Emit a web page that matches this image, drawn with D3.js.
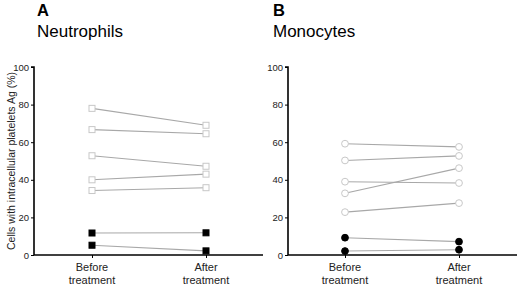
<!DOCTYPE html>
<html><head><meta charset="utf-8">
<script src="https://cdn.jsdelivr.net/npm/d3@7"></script>
<style>body{margin:0;background:#fff}svg{display:block}text{font-family:"Liberation Sans",Arial,sans-serif}</style>
</head><body>
<svg id="c" width="520" height="290"></svg>
<script>
const groups = ["Before\ntreatment", "After\ntreatment"];
const yTicks = [0, 20, 40, 60, 80, 100];
// Panel A: Neutrophils (open squares = gray, filled squares = black)
const neutroOpenBefore = [78, 66.7, 52.8, 40, 34.3];
const neutroOpenAfter  = [69, 64.5, 47.2, 43, 35.8];
const neutroFilledBefore = [11.7, 5.2];
const neutroFilledAfter  = [11.8, 2.2];
// Panel B: Monocytes (open circles = gray, filled circles = black)
const monoOpenBefore = [59.2, 50.3, 39, 32.8, 22.8];
const monoOpenAfter  = [57.5, 52.7, 38.3, 46.2, 27.6];
const monoFilledBefore = [9.2, 2.1];
const monoFilledAfter  = [7.1, 2.8];

const svg = d3.select("#c");
const y = d3.scaleLinear().domain([0, 100]).range([255, 67]);

function panel(opt) {
  const g = svg.append("g");
  const x = d3.scalePoint().domain(groups).range([opt.bx, opt.ax]);
  // title
  g.append("text").attr("x", opt.tx).attr("y", 15.5).attr("font-size", 16.5).attr("font-weight", "bold").text(opt.letter);
  g.append("text").attr("x", opt.tx).attr("y", 36.5).attr("font-size", 17).text(opt.title);
  // y axis
  const ya = g.append("g").attr("transform", `translate(${opt.x0},0)`)
    .call(d3.axisLeft(y).tickValues(yTicks).tickSize(3).tickPadding(2));
  ya.select(".domain").attr("stroke-width", 1.6).attr("d", `M-3,${y(100)}H0V${y(0)}`);
  ya.selectAll("text").attr("font-size", 9.5).attr("fill", "#222").attr("font-family", "Liberation Sans, Arial");
  // x axis
  const xa = g.append("g").attr("transform", `translate(0,${y(0)})`)
    .call(d3.axisBottom(x).tickSize(3).tickFormat(""));
  xa.select(".domain").attr("stroke-width", 1.6).attr("d", `M${opt.x0},0H${opt.x1}`);
  groups.forEach(gr => {
    const parts = gr.split("\n");
    const t = g.append("text").attr("x", x(gr)).attr("y", 271).attr("text-anchor", "middle").attr("font-size", 11).attr("fill", "#222");
    parts.forEach((p, i) => t.append("tspan").attr("x", x(gr)).attr("dy", i ? 13 : 0).text(p));
  });
  const series = [
    {b: opt.openB, a: opt.openA, fill: "#fff", stroke: "#c8c8c8"},
    {b: opt.filledB, a: opt.filledA, fill: "#000", stroke: "#000"}
  ];
  series.forEach(s => {
    s.b.forEach((v, i) => {
      g.append("line").attr("x1", x(groups[0])).attr("x2", x(groups[1]))
        .attr("y1", y(v)).attr("y2", y(s.a[i])).attr("stroke", "#a8a8a8").attr("stroke-width", 1.1);
    });
  });
  series.forEach(s => {
    [[groups[0], s.b], [groups[1], s.a]].forEach(([gr, vals]) => {
      vals.forEach(v => {
        if (opt.shape === "square") {
          g.append("rect").attr("x", x(gr) - 3).attr("y", y(v) - 3).attr("width", 6).attr("height", 6)
            .attr("fill", s.fill).attr("stroke", s.stroke).attr("stroke-width", 1);
        } else {
          g.append("circle").attr("cx", x(gr)).attr("cy", y(v)).attr("r", 3.4)
            .attr("fill", s.fill).attr("stroke", s.stroke).attr("stroke-width", 1);
        }
      });
    });
  });
}

panel({letter: "A", title: "Neutrophils", tx: 37, x0: 34, x1: 263, bx: 92, ax: 206, shape: "square",
  openB: neutroOpenBefore, openA: neutroOpenAfter, filledB: neutroFilledBefore, filledA: neutroFilledAfter});
panel({letter: "B", title: "Monocytes", tx: 273, x0: 288, x1: 517, bx: 345, ax: 459, shape: "circle",
  openB: monoOpenBefore, openA: monoOpenAfter, filledB: monoFilledBefore, filledA: monoFilledAfter});

svg.append("text").attr("transform", `translate(14.5,${y(50)}) rotate(-90)`).attr("text-anchor", "middle")
  .attr("font-size", 10.5).attr("fill", "#222").text("Cells with intracellular platelets Ag (%)");
</script>
</body></html>
